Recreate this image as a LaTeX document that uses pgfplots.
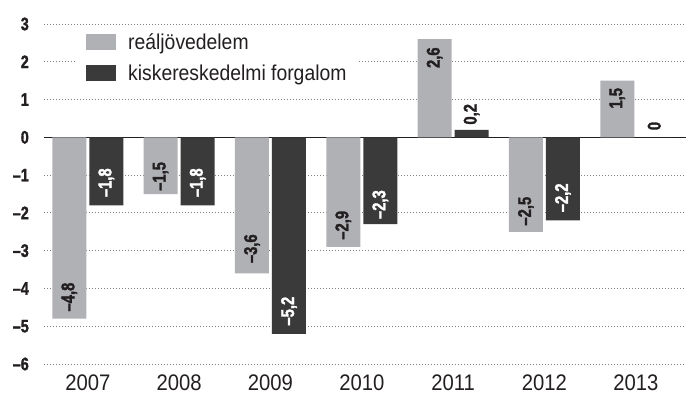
\documentclass[border=0pt]{standalone}
\usepackage{fontspec}
\setmainfont{Liberation Sans}
\newfontfamily\condfont[FakeStretch=0.9]{Liberation Sans}
\newfontfamily\knock[FakeStretch=0.8, FakeBold=1.6]{Liberation Sans Bold}
\usepackage{pgfplots}
\usepackage{pgfplotstable}
\pgfplotsset{compat=1.18}

\definecolor{barlight}{HTML}{B0B1B5}
\definecolor{bardark}{HTML}{3A3A3A}
\definecolor{ink}{HTML}{231F20}
% label that starts #1 bp beyond the bar end (upward, rotated)
\newcommand{\Up}[2]{\hspace*{#1bp}#2}
% same, in white
\newcommand{\Uw}[2]{\hspace*{#1bp}\textcolor{white}{#2}}
% label that ends #1 bp below the bar top
\newcommand{\Dn}[2]{\makebox[0pt][r]{#2\hspace*{#1bp}}}

\pgfplotstableread{
x y lbl
0 -4.8 \Up{7}{–4,8}
1 -1.5 \Up{3}{–1,5}
2 -3.6 \Up{10}{–3,6}
3 -2.9 \Up{7}{–2,9}
4 2.6 \Dn{9}{2,6}
5 -2.5 \Up{6}{–2,5}
6 1.5 \Dn{8}{1,5}
}\realdata

\pgfplotstableread{
x y lbl
0 -1.8 \Uw{8}{–1,8}
1 -1.8 \Uw{8}{–1,8}
2 -5.2 \Uw{8}{–5,2}
3 -2.3 \Uw{5}{–2,3}
4 0.2 \Up{5}{0,2}
5 -2.2 \Uw{8}{–2,2}
6 0 \Up{7}{0}
}\retaildata

\begin{document}
\begin{tikzpicture}
\path[use as bounding box] (-44bp,-37bp) rectangle (642bp,364bp);
\begin{axis}[
  scale only axis,
  width=642bp, height=340bp,
  ymin=-6, ymax=3, xmin=-0.48, xmax=6.55,
  ybar=3bp, bar width=34bp,
  axis line style={draw=none},
  major tick length=0pt,
  ytick={-6,-5,-4,-3,-2,-1,0,1,2,3},
  yticklabels={–6,–5,–4,–3,–2,–1,0,1,2,3},
  yticklabel style={font=\knock\fontsize{18bp}{18bp}\selectfont, text=ink, inner sep=0pt, xshift=-15bp},
  xtick={0,1,2,3,4,5,6},
  xticklabels={2007,2008,2009,2010,2011,2012,2013},
  xticklabel style={font=\condfont\fontsize{22.5bp}{22.5bp}\selectfont, text=ink, inner sep=0pt, yshift=-11bp},
  ymajorgrids,
  grid style={gray, line width=0.8bp, dash pattern=on 0.8bp off 2.2bp},
  extra y ticks={0},
  extra y tick labels={},
  extra y tick style={grid style={solid, ink, line width=1.4bp}},
  legend style={draw=none, fill=white, at={(rel axis cs:0,1)}, anchor=north west,
    xshift=32bp, yshift=-3bp, font=\condfont\fontsize{21.5bp}{24bp}\selectfont, text=ink,
    row sep=10bp, inner xsep=10bp, inner ysep=4bp,
    /tikz/every odd column/.append style={column sep=10bp}},
  legend cell align=left,
  legend image code/.code={\fill[#1] (0bp,-8bp) rectangle (30bp,8bp);},
  nodes near coords,
  point meta=explicit symbolic,
  every node near coord/.append style={font=\knock\fontsize{18.5bp}{18.5bp}\selectfont,
    text=ink, inner sep=0pt, rotate=90, anchor=west},
]
\addplot[draw=none, fill=barlight] table[x=x, y=y, meta=lbl] {\realdata};
\addplot[draw=none, fill=bardark] table[x=x, y=y, meta=lbl] {\retaildata};
\legend{reáljövedelem, kiskereskedelmi forgalom}
\end{axis}
\end{tikzpicture}
\end{document}
